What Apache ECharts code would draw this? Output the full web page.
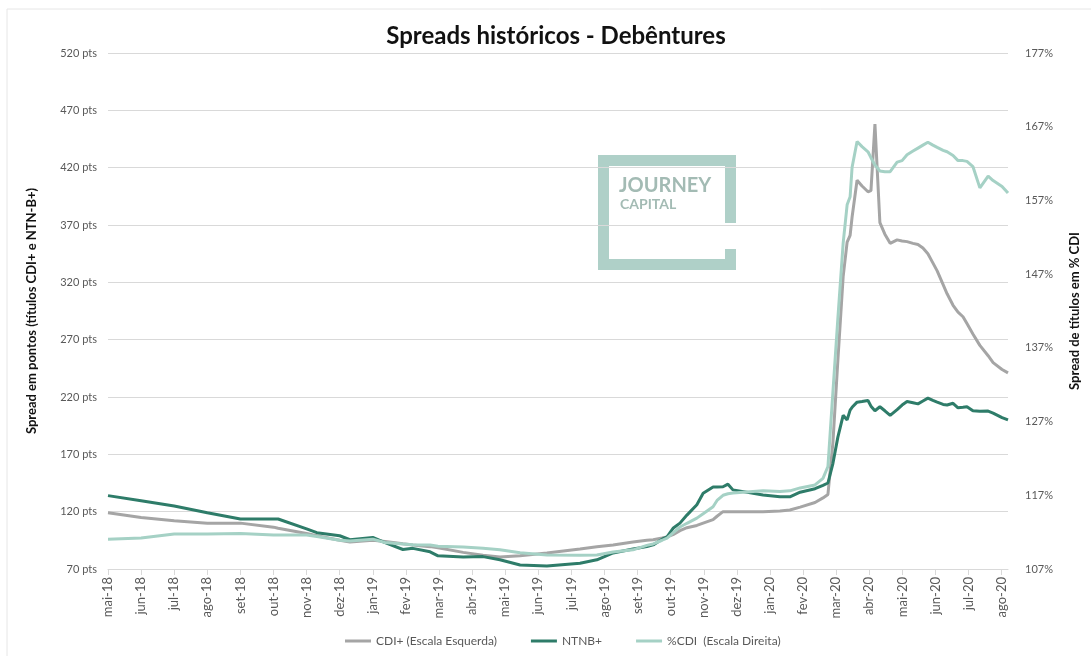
<!DOCTYPE html>
<html lang="pt-br">
<head>
  <meta charset="utf-8">
  <title>Spreads históricos - Debêntures</title>
  <script src="https://cdn.jsdelivr.net/npm/echarts@6.0.0/dist/echarts.min.js"></script>
  <style type="text/css">
    html, body { margin: 0; padding: 0; background: #fff; }
    #chart { width: 1091px; height: 656px; }
  </style>
</head>
<body>
<div id="chart"></div>
<script type="text/javascript">
// rótulos do eixo x (um por mês)
var months = ['mai-18','jun-18','jul-18','ago-18','set-18','out-18','nov-18','dez-18',
  'jan-19','fev-19','mar-19','abr-19','mai-19','jun-19','jul-19','ago-19','set-19','out-19','nov-19','dez-19',
  'jan-20','fev-20','mar-20','abr-20','mai-20','jun-20','jul-20','ago-20'];

// posição de cada ponto em meses a partir de mai-18
var xPos = [0, 1, 2, 3, 4, 5, 5.14, 6, 6.31, 7, 7.31, 8, 8.37, 8.91, 9.21, 9.73, 9.97, 10.73, 11.33, 11.84,
  12.45, 13.26, 14.26, 14.77, 15.26, 15.86, 16.28, 16.47, 16.74, 16.89, 17.07, 17.28, 17.49, 17.79, 17.98,
  18.28, 18.40, 18.58, 18.73, 18.88, 19.79, 20.30, 20.60, 20.91, 21.36, 21.60, 21.75, 21.90, 22.05, 22.21,
  22.33, 22.42, 22.48, 22.63, 22.78, 22.96, 23.05, 23.17, 23.32, 23.47, 23.63, 23.84, 23.99, 24.14, 24.32,
  24.47, 24.62, 24.77, 24.92, 25.05, 25.23, 25.35, 25.53, 25.68, 25.83, 25.95, 26.13, 26.34, 26.59, 26.74,
  27.01, 27.19];

// CDI+ (pts, escala esquerda)
var cdiPlus = [119, 115, 112, 110, 110, 106.5, 105.5, 101, 99, 95, 93.5, 95, 94, 92, 91, 89.5, 88.5, 84.5, 82, 80.5,
  81.5, 84, 87.5, 89.5, 91, 93.5, 95, 95.5, 97, 98, 100, 103.5, 106, 108, 110,
  113, 116, 120, 120, 120, 120, 120.5, 121.5, 124, 128, 132, 135, 180, 252, 325,
  355, 361, 377, 409, 404, 399, 400, 458, 372, 362, 354, 357, 356, 355.5, 354,
  353, 350, 345, 337, 330, 318, 310, 300, 294, 290, 284, 275, 265, 256, 250,
  244, 241];

// NTNB+ (pts, escala esquerda)
var ntnbPlus = [134, 129.5, 125, 119, 113.6, 113.6, 113.6, 105, 101.7, 99, 95.5, 97.5, 93, 87, 88, 85, 81.5, 80.5, 80.8, 78,
  73.5, 72.6, 75, 78, 84, 87.5, 89.5, 91, 96, 98, 105.5, 110, 117, 126, 136,
  141.5, 141.5, 141.7, 144, 139, 134.5, 133, 133, 137, 140, 143, 145, 162, 185, 204,
  200, 208.6, 211, 215.5, 216, 217, 212, 208, 211.5, 208, 204, 209, 213, 216, 215,
  214, 216.5, 219, 217, 215.5, 213.5, 213, 214.5, 210.6, 211, 211.5, 208, 207.5, 207.7, 206,
  202, 200];

// %CDI (escala direita)
var pctCdi = [111.05, 111.2, 111.75, 111.75, 111.8, 111.6, 111.6, 111.6, 111.4, 110.9, 110.8, 111.05, 110.6, 110.4, 110.3, 110.25, 110.1, 110.0, 109.8, 109.6,
  109.2, 108.9, 108.85, 108.9, 109.3, 109.6, 110.2, 110.4, 110.9, 111.2, 111.9, 112.7, 113.2, 113.9, 114.5,
  115.45, 116.3, 117, 117.2, 117.3, 117.6, 117.5, 117.6, 118, 118.4, 119.3, 120.9, 131, 141, 151.2,
  156.4, 157.5, 161.5, 165, 164.3, 163.6, 162.8, 161.8, 161, 160.9, 160.9, 162.2, 162.4, 163.2, 163.7,
  164.1, 164.5, 164.9, 164.5, 164.2, 163.8, 163.6, 163.1, 162.4, 162.4, 162.3, 161.6, 158.7, 160.3, 159.7,
  158.9, 158];

function pairs(vals) {
  return xPos.map(function (x, i) { return [x, vals[i]]; });
}

var chart = echarts.init(document.getElementById('chart'));
var font = 'Lato';

option = {
  backgroundColor: '#fff',
  animation: false,
  title: {
    text: 'Spreads históricos - Debêntures',
    left: 551,
    textAlign: 'center',
    top: 19,
    textStyle: { fontFamily: font, fontSize: 24, fontWeight: 'bold', color: '#111' }
  },
  legend: {
    left: 340,
    top: 630,
    icon: 'rect',
    itemWidth: 26,
    itemHeight: 3,
    itemGap: 34,
    textStyle: { fontFamily: font, fontSize: 12, color: '#595959' },
    data: ['CDI+ (Escala Esquerda)', 'NTNB+', '%CDI  (Escala Direita)']
  },
  grid: { left: 108, right: 83, top: 53, bottom: 87 },
  xAxis: {
    type: 'value',
    min: 0,
    max: 27.19,
    interval: 1,
    axisLine: { lineStyle: { color: '#d9d9d9' } },
    axisTick: { show: true, length: 6, lineStyle: { color: '#d9d9d9' } },
    splitLine: { show: false },
    axisLabel: {
      rotate: 90,
      margin: 8,
      fontFamily: font,
      fontSize: 13,
      color: '#595959',
      showMaxLabel: false,
      formatter: function (v) { return months[v] || ''; }
    }
  },
  yAxis: [
    {
      type: 'value',
      min: 70,
      max: 520,
      interval: 50,
      name: 'Spread em pontos (títulos CDI+ e NTN-B+)',
      nameLocation: 'middle',
      nameRotate: 90,
      nameGap: 70,
      nameTextStyle: { fontFamily: font, fontSize: 13, fontWeight: 'bold', color: '#111' },
      axisLine: { show: false },
      axisTick: { show: false },
      axisLabel: { fontFamily: font, fontSize: 11, color: '#595959', margin: 11, formatter: '{value} pts' },
      splitLine: { lineStyle: { color: '#d9d9d9' } }
    },
    {
      type: 'value',
      min: 107,
      max: 177,
      interval: 10,
      name: 'Spread de títulos em % CDI',
      nameLocation: 'middle',
      nameRotate: 90,
      nameGap: 60,
      nameTextStyle: { fontFamily: font, fontSize: 13, fontWeight: 'bold', color: '#111' },
      axisLine: { show: false },
      axisTick: { show: false },
      axisLabel: { fontFamily: font, fontSize: 11, color: '#595959', margin: 17, formatter: '{value}%' },
      splitLine: { show: false }
    }
  ],
  graphic: [
    // moldura da imagem
    { type: 'rect', shape: { x: 7, y: 9, width: 1100, height: 700 }, style: { fill: 'none', stroke: '#e6e6e6', lineWidth: 1 }, silent: true },
    // logo Journey Capital
    { type: 'rect', shape: { x: 598, y: 155, width: 138, height: 11 }, style: { fill: '#afd0c8' }, silent: true },
    { type: 'rect', shape: { x: 598, y: 155, width: 11, height: 115 }, style: { fill: '#afd0c8' }, silent: true },
    { type: 'rect', shape: { x: 598, y: 259, width: 138, height: 11 }, style: { fill: '#afd0c8' }, silent: true },
    { type: 'rect', shape: { x: 725, y: 155, width: 11, height: 68 }, style: { fill: '#afd0c8' }, silent: true },
    { type: 'rect', shape: { x: 725, y: 249, width: 11, height: 21 }, style: { fill: '#afd0c8' }, silent: true },
    { type: 'text', left: 619, top: 176, silent: true,
      style: { text: 'JOURNEY', font: 'bold 20px Lato', fill: '#a3bbb4' } },
    { type: 'text', left: 620, top: 197, silent: true,
      style: { text: 'CAPITAL', font: 'bold 14px Lato', fill: '#a3bbb4' } }
  ],
  series: [
    {
      name: 'CDI+ (Escala Esquerda)',
      type: 'line',
      yAxisIndex: 0,
      symbol: 'none',
      color: '#a5a5a5',
      lineStyle: { width: 3 },
      data: pairs(cdiPlus)
    },
    {
      name: 'NTNB+',
      type: 'line',
      yAxisIndex: 0,
      symbol: 'none',
      color: '#2e7c69',
      lineStyle: { width: 3 },
      data: pairs(ntnbPlus)
    },
    {
      name: '%CDI  (Escala Direita)',
      type: 'line',
      yAxisIndex: 1,
      symbol: 'none',
      color: '#a5d1c5',
      lineStyle: { width: 3 },
      data: pairs(pctCdi)
    }
  ]
};

chart.setOption(option);
</script>
</body>
</html>
